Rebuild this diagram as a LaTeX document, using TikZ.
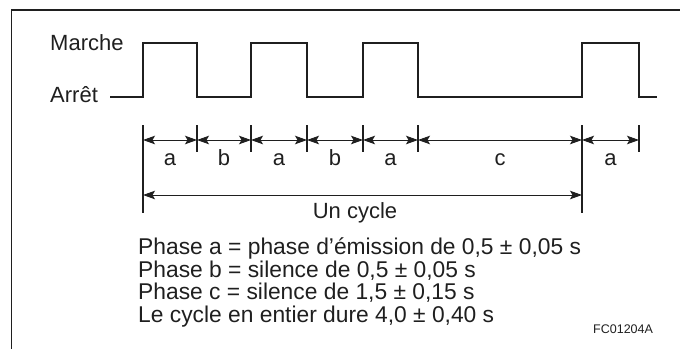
\documentclass[tikz,border=0pt]{standalone}
\usepackage{fontspec}
\setmainfont{Liberation Sans}
\usetikzlibrary{arrows.meta}
\begin{document}
\begin{tikzpicture}[x=1pt,y=-1pt,
  ink/.style={color=black!88},
  frame/.style={line width=1.3pt, ink},
  wave/.style={line width=2.6pt, line join=miter, ink},
  tickline/.style={line width=1.5pt, ink},
  dimline/.style={line width=0.9pt, ink,
    {Stealth[length=12pt,width=8.5pt,inset=2.5pt]}-{Stealth[length=12pt,width=8.5pt,inset=2.5pt]}},
  txt/.style={font=\fontsize{22}{22}\selectfont, text=black!88, inner sep=0pt},
  legend/.style={font=\fontsize{22.8}{22.8}\selectfont, text=black!88, inner sep=0pt},
  small/.style={font=\fontsize{12.5}{12.5}\selectfont, text=black!88, inner sep=0pt}]
\useasboundingbox (0,0) rectangle (680,349);
% frame (top and left only)
\coordinate (fr) at (680,10);
\coordinate (fc) at (11.5,10);
\coordinate (fb) at (11.5,349);
\draw[frame] (fr) -- (fc) -- (fb);
% state labels
\node[txt, anchor=base west] (marche) at (50,50) {Marche};
\node[txt, anchor=base west] (arret) at (50,102) {Arrêt};
% waveform
\draw[wave] (110,97) -- (143,97) -- (143,43) -- (197,43) -- (197,97) -- (251,97)
  -- (251,43) -- (307,43) -- (307,97) -- (363,97) -- (363,43) -- (418,43)
  -- (418,97) -- (582,97) -- (582,43) -- (639,43) -- (639,97) -- (657,97);
% tick marks
\foreach \n/\x in {1/143,2/197,3/251,4/307,5/363,6/418,7/582,8/639}{
  \coordinate (t\n) at (\x,140);
  \coordinate (tt\n) at (\x,125);
}
\foreach \n in {2,3,4,5,6,8}{ \draw[tickline] (tt\n) -- ++(0,27); }
\draw[tickline] (tt1) -- ++(0,88);
\draw[tickline] (tt7) -- ++(0,88);
% dimension arrows
\draw[dimline] (t1) -- (t2) node[txt, midway, anchor=base, yshift=-25pt] (la1) {a};
\draw[dimline] (t2) -- (t3) node[txt, midway, anchor=base, yshift=-25pt] (lb1) {b};
\draw[dimline] (t3) -- (t4) node[txt, midway, anchor=base, yshift=-25pt] (la2) {a};
\draw[dimline] (t4) -- (t5) node[txt, midway, anchor=base, yshift=-25pt] (lb2) {b};
\draw[dimline] (t5) -- (t6) node[txt, midway, anchor=base, yshift=-25pt] (la3) {a};
\draw[dimline] (t6) -- (t7) node[txt, midway, anchor=base, yshift=-25pt] (lc) {c};
\draw[dimline] (t7) -- (t8) node[txt, midway, anchor=base, yshift=-25pt] (la4) {a};
% cycle
\coordinate (c1) at (143,195);
\coordinate (c2) at (582,195);
\draw[dimline] (c1) -- (c2);
\node[txt, anchor=base] (cyc) at (355,218) {Un cycle};
% legend
\node[legend, anchor=base west] (l1) at (138,254) {Phase a = phase d’émission de 0,5 ± 0,05 s};
\node[legend, anchor=base west] (l2) at (138,277) {Phase b = silence de 0,5 ± 0,05 s};
\node[legend, anchor=base west] (l3) at (138,299) {Phase c = silence de 1,5 ± 0,15 s};
\node[legend, anchor=base west] (l4) at (138,322) {Le cycle en entier dure 4,0 ± 0,40 s};
\node[small, anchor=base west] (code) at (593,333) {FC01204A};
\end{tikzpicture}
\end{document}
